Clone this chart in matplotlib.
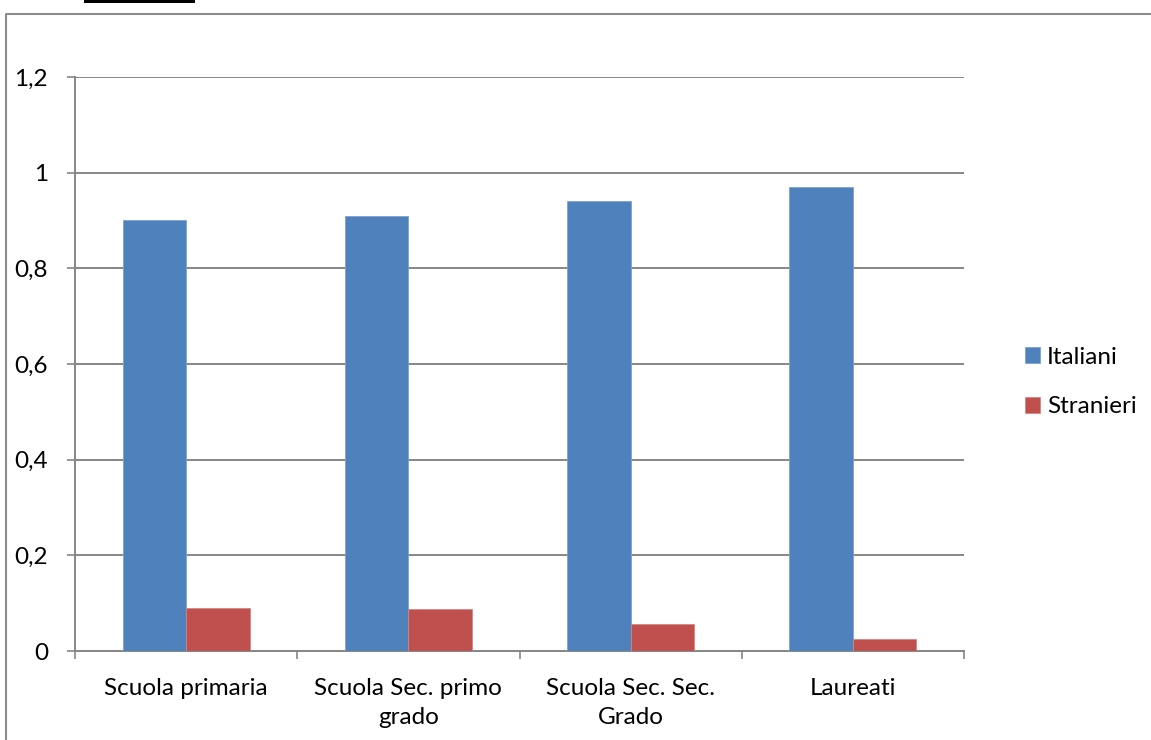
import matplotlib
matplotlib.use("Agg")
import matplotlib.pyplot as plt
from matplotlib.lines import Line2D
from matplotlib.patches import Rectangle
import numpy as np

categories = ["Scuola primaria", "Scuola Sec. primo\ngrado", "Scuola Sec. Sec.\nGrado", "Laureati"]
italiani = [0.90, 0.91, 0.94, 0.97]
stranieri = [0.090, 0.088, 0.057, 0.025]
series_names = ["Italiani", "Stranieri"]
y_ticks = [0, 0.2, 0.4, 0.6, 0.8, 1.0, 1.2]
y_labels = ["0", "0,2", "0,4", "0,6", "0,8", "1", "1,2"]

plt.rcParams['font.family'] = ['Lato', 'DejaVu Sans']
GRID = "#868686"
BLUE = "#4F81BD"
RED = "#C0504D"
FS = 17.5

W, H = 1151, 740
fig = plt.figure(figsize=(W / 100, H / 100), dpi=100)
ax = fig.add_axes([75 / W, 1 - 651 / H, (964 - 75) / W, (651 - 77) / H])

x = np.arange(len(categories))
bw = 1 / 3.5
ax.bar(x - bw / 2, italiani, width=bw, color=BLUE, edgecolor="#7FA2D0", linewidth=0.6,
       label=series_names[0], zorder=3)
ax.bar(x + bw / 2, stranieri, width=bw, color=RED, edgecolor="#D68583", linewidth=0.6,
       label=series_names[1], zorder=3)

ax.set_xlim(-0.5, len(categories) - 0.5)
ax.set_ylim(0, 1.2)

ax.set_yticks(y_ticks)
ax.set_yticklabels(y_labels, fontsize=FS)
ax.yaxis.grid(True, color=GRID, linewidth=1.4, zorder=0)
ax.tick_params(axis="y", length=5.5, width=1.2, color=GRID, pad=14)

ax.set_xticks(x)
ax.set_xticklabels(categories, fontsize=FS, linespacing=1.48)
ax.tick_params(axis="x", which="major", length=0, pad=19.5)
ax.set_xticks(np.arange(-0.5, len(categories), 1.0), minor=True)
ax.tick_params(axis="x", which="minor", length=6, width=1.2, color=GRID)

for s in ["top", "right"]:
    ax.spines[s].set_visible(False)
for s in ["left", "bottom"]:
    ax.spines[s].set_color(GRID)
    ax.spines[s].set_linewidth(1.4)

leg = ax.legend(loc="center left", bbox_to_anchor=(1003 / W, 1 - 382 / H),
                bbox_transform=fig.transFigure, frameon=False, fontsize=FS,
                handlelength=0.62, handleheight=0.62, handletextpad=0.3,
                labelspacing=1.18)

# outer chart frame and the cut-off caption line above it
fig.add_artist(Line2D([5.5 / W, 5.5 / W, 1.0], [0.0, 1 - 13.5 / H, 1 - 13.5 / H],
                      transform=fig.transFigure, color="#8C8C8C", linewidth=1.5))
fig.add_artist(Rectangle((84 / W, 1 - 2.5 / H), (195 - 84) / W, 2.5 / H,
                         transform=fig.transFigure, color="black", linewidth=0))

fig.savefig("out.png", dpi=100)
